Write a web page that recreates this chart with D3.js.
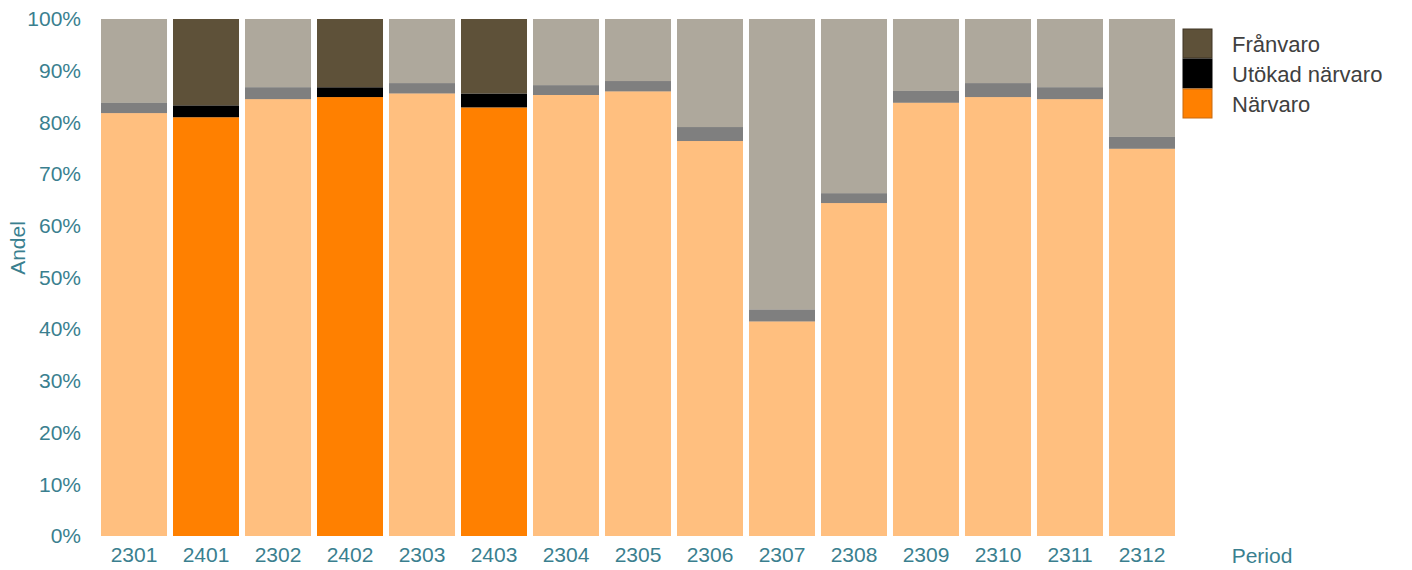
<!DOCTYPE html>
<html>
<head>
<meta charset="utf-8">
<script src="https://cdn.jsdelivr.net/npm/d3@7"></script>
<style>
  body { margin: 0; background: #fff; }
  text { font-family: "Liberation Sans", Arial, sans-serif; }
</style>
</head>
<body>
<div id="chart"></div>
<script>
// periods in drawing order, the 24xx ones are drawn at full strength
var periods = ["2301", "2401", "2302", "2402", "2303", "2403", "2304", "2305", "2306", "2307", "2308", "2309", "2310", "2311", "2312"];
var highlighted = ["2401", "2402", "2403"];

// percent values
var narvaro  = [81.8, 81.0, 84.5, 84.9, 85.6, 82.9, 85.3, 86.0, 76.4, 41.5, 64.4, 83.8, 84.9, 84.5, 74.9];
var utokad   = [2.0, 2.3, 2.3, 1.9, 2.0, 2.7, 1.9, 2.0, 2.7, 2.3, 1.9, 2.3, 2.7, 2.3, 2.3];
var franvaro = [16.2, 16.7, 13.2, 13.2, 12.4, 14.4, 12.8, 12.0, 20.9, 56.2, 33.7, 13.9, 12.4, 13.2, 22.8];

var yTicks = [0, 10, 20, 30, 40, 50, 60, 70, 80, 90, 100];

var seriesKeys = ["narvaro", "utokad", "franvaro"];
var seriesNames = { narvaro: "Närvaro", utokad: "Utökad närvaro", franvaro: "Frånvaro" };
var colors = { narvaro: "#ff8000", utokad: "#000000", franvaro: "#5e5139" };
var strokes = { narvaro: "#c86a10", utokad: "#000000", franvaro: "#3e3524" };
var textColor = "#3a7f8f";

var width = 1412;
var height = 570;

var svg = d3.select("#chart").append("svg")
    .attr("width", width)
    .attr("height", height);

var rows = periods.map(function (p, i) {
    return { period: p, narvaro: narvaro[i], utokad: utokad[i], franvaro: franvaro[i] };
});

var stack = d3.stack().keys(seriesKeys);
var layers = stack(rows);

var x = d3.scaleBand()
    .domain(periods)
    .range([98, 1178])
    .paddingInner(0.0833)
    .paddingOuter(0.0417);

var y = d3.scaleLinear()
    .domain([0, 100])
    .range([536, 19]);

/* bars */
var layer = svg.selectAll("g.layer")
    .data(layers)
    .enter().append("g")
    .attr("class", "layer")
    .attr("fill", function (d) { return colors[d.key]; });

layer.selectAll("rect")
    .data(function (d) { return d; })
    .enter().append("rect")
    .attr("x", function (d) { return x(d.data.period); })
    .attr("width", x.bandwidth())
    .attr("y", function (d) { return y(d[1]); })
    .attr("height", function (d) { return y(d[0]) - y(d[1]); })
    .attr("fill-opacity", function (d) { return highlighted.indexOf(d.data.period) !== -1 ? 1 : 0.5; });

/* y axis */
var yAxis = svg.append("g")
    .attr("transform", "translate(81,0)")
    .call(d3.axisLeft(y).tickValues(yTicks).tickSize(0).tickPadding(0)
        .tickFormat(function (d) { return d + "%"; }));
yAxis.select(".domain").remove();
yAxis.selectAll("text")
    .attr("fill", textColor)
    .attr("font-size", "21px")
    .style("font-family", "Liberation Sans, Arial, sans-serif");

/* x axis */
var xAxis = svg.append("g")
    .attr("transform", "translate(0,545)")
    .call(d3.axisBottom(x).tickSize(0).tickPadding(0));
xAxis.select(".domain").remove();
xAxis.selectAll("text")
    .attr("fill", textColor)
    .attr("font-size", "21px")
    .attr("dy", "0.8em")
    .style("font-family", "Liberation Sans, Arial, sans-serif");

/* axis titles */
svg.append("text")
    .attr("x", 1262)
    .attr("y", 563)
    .attr("text-anchor", "middle")
    .attr("fill", textColor)
    .attr("font-size", "21px")
    .text("Period");

svg.append("text")
    .attr("transform", "translate(25,248) rotate(-90)")
    .attr("text-anchor", "middle")
    .attr("fill", textColor)
    .attr("font-size", "21px")
    .text("Andel");

/* legend, top entry is the top of the stack */
var legendKeys = seriesKeys.slice().reverse();
var legend = svg.selectAll("g.legend")
    .data(legendKeys)
    .enter().append("g")
    .attr("class", "legend")
    .attr("transform", function (d, i) { return "translate(1183," + (29 + i * 30) + ")"; });

legend.append("rect")
    .attr("width", 29)
    .attr("height", 29)
    .attr("fill", function (d) { return colors[d]; })
    .attr("stroke", function (d) { return strokes[d]; })
    .attr("stroke-width", 1);

legend.append("text")
    .attr("x", 49)
    .attr("y", 15)
    .attr("dy", "0.35em")
    .attr("fill", "#404040")
    .attr("font-size", "22px")
    .text(function (d) { return seriesNames[d]; });
</script>
</body>
</html>
